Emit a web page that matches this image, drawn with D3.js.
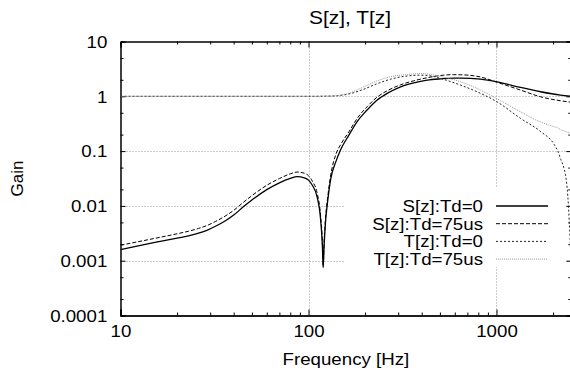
<!DOCTYPE html>
<html><head><meta charset="utf-8">
<script src="https://cdn.jsdelivr.net/npm/d3@7"></script>
<style>body{margin:0;background:#fff}svg{display:block}</style>
</head><body><svg id="c" width="570" height="377"></svg>
<script>
const title = "S[z], T[z]";
const xLabel = "Frequency [Hz]";
const yLabel = "Gain";
const xTicks = [10, 100, 1000];
const xTickLabels = ["10", "100", "1000"];
const yTicks = [0.0001, 0.001, 0.01, 0.1, 1, 10];
const yTickLabels = ["0.0001", "0.001", "0.01", "0.1", "1", "10"];
const seriesNames = ["S[z]:Td=0", "S[z]:Td=75us", "T[z]:Td=0", "T[z]:Td=75us"];

const sFreq = [10, 15, 20, 23, 26, 29, 32, 36, 40, 45, 50, 60, 70, 80, 87, 95, 100, 105, 111, 116, 118.6, 119.7, 121, 123, 126.7, 131, 140, 148, 164, 181, 205, 232, 262, 309, 363, 428, 503, 590, 644, 823, 1008, 1342, 1715, 2190, 2500];
const s0 = [0.00160, 0.00213, 0.00258, 0.00285, 0.00318, 0.00362, 0.00425, 0.00530, 0.00680, 0.00960, 0.0128, 0.0198, 0.0264, 0.0318, 0.0342, 0.0325, 0.0295, 0.0235, 0.0148, 0.0056, 0.0018, 0.00075, 0.0018, 0.0048, 0.0128, 0.0298, 0.065, 0.105, 0.196, 0.343, 0.561, 0.853, 1.13, 1.49, 1.76, 1.97, 2.08, 2.15, 2.15, 2.06, 1.84, 1.45, 1.21, 1.05, 1.00];
const s75 = [0.00192, 0.00253, 0.00310, 0.00345, 0.00388, 0.00442, 0.00520, 0.00650, 0.00830, 0.01160, 0.0154, 0.0238, 0.0316, 0.0384, 0.0415, 0.0395, 0.0355, 0.0280, 0.0175, 0.0066, 0.0021, 0.00078, 0.0021, 0.0056, 0.0150, 0.0350, 0.088, 0.13, 0.225, 0.39, 0.645, 0.97, 1.26, 1.62, 1.92, 2.18, 2.40, 2.48, 2.47, 2.25, 1.80, 1.30, 0.98, 0.83, 0.78];

const tFreq = [10, 50, 100, 130, 145, 167, 197, 232, 273, 335, 394, 450, 503, 644, 823, 1008, 1342, 1715, 2018, 2118, 2200, 2280, 2328, 2395, 2440, 2480];
const t0 = [1, 1, 1, 1.01, 1.03, 1.12, 1.35, 1.70, 2.05, 2.35, 2.43, 2.35, 2.12, 1.60, 1.13, 0.79, 0.395, 0.228, 0.135, 0.10, 0.07, 0.05, 0.037, 0.015, 0.005, 0.0015];
const t75 = [1, 1, 1, 1.01, 1.04, 1.16, 1.49, 1.91, 2.27, 2.50, 2.60, 2.50, 2.30, 1.84, 1.30, 0.90, 0.52, 0.34, 0.28, 0.265, 0.245, 0.235, 0.228, 0.22, 0.215, 0.21];

const svg = d3.select("#c");
const FONT = "'Liberation Sans', Arial, Helvetica, sans-serif";
const L = 120.5, T = 41.5, B = 315.5;
const x = d3.scaleLog().domain([10, 2500]).range([L, L + 188 * Math.log10(250)]);
const y = d3.scaleLog().domain([0.0001, 10]).range([B, T]);
const R = x.range()[1];

svg.append("rect").attr("width", 570).attr("height", 377).attr("fill", "#fff");

// grid
const grid = svg.append("g").attr("stroke", "#999").attr("stroke-width", 1).attr("stroke-dasharray", "1,2");
grid.selectAll(".gx").data([100, 1000]).join("line")
  .attr("x1", d => Math.round(x(d)) + 0.5).attr("x2", d => Math.round(x(d)) + 0.5)
  .attr("y1", T).attr("y2", B);
grid.selectAll(".gy").data([0.001, 0.01, 0.1, 1]).join("line")
  .attr("y1", d => Math.round(y(d)) + 0.5).attr("y2", d => Math.round(y(d)) + 0.5)
  .attr("x1", L).attr("x2", R);

// legend background (blanks grid)
svg.append("rect").attr("x", 345).attr("y", 188).attr("width", 222).attr("height", 79).attr("fill", "#fff");

// minor ticks
const xMinor = [];
[10, 100, 1000].forEach(dec => { for (let k = 2; k <= 9; k++) { const v = dec * k; if (v <= 2500) xMinor.push(v); } });
const yMinor = [];
[0.0001, 0.001, 0.01, 0.1, 1].forEach(dec => { [2, 5].forEach(k => yMinor.push(dec * k)); });

const axB = svg.append("g").attr("transform", `translate(0,${B})`)
  .call(d3.axisBottom(x).tickValues(xTicks).tickFormat((d, i) => xTickLabels[i]).tickSize(-6).tickPadding(9));
const axT = svg.append("g").attr("transform", `translate(0,${T})`)
  .call(d3.axisTop(x).tickValues(xTicks).tickFormat("").tickSize(-6));
const axBm = svg.append("g").attr("transform", `translate(0,${B})`)
  .call(d3.axisBottom(x).tickValues(xMinor).tickFormat("").tickSize(-3));
const axTm = svg.append("g").attr("transform", `translate(0,${T})`)
  .call(d3.axisTop(x).tickValues(xMinor).tickFormat("").tickSize(-3));
const axL = svg.append("g").attr("transform", `translate(${L},0)`)
  .call(d3.axisLeft(y).tickValues(yTicks).tickFormat((d, i) => yTickLabels[i]).tickSize(-5).tickPadding(12));
const axLm = svg.append("g").attr("transform", `translate(${L},0)`)
  .call(d3.axisLeft(y).tickValues(yMinor).tickFormat("").tickSize(-3));
const axR = svg.append("g").attr("transform", `translate(${R},0)`)
  .call(d3.axisRight(y).tickValues(yTicks).tickFormat("").tickSize(-5));
const axRm = svg.append("g").attr("transform", `translate(${R},0)`)
  .call(d3.axisRight(y).tickValues(yMinor).tickFormat("").tickSize(-3));

[axB, axT, axBm, axTm, axL, axLm, axR, axRm].forEach(a => {
  a.select(".domain").attr("stroke", "#000");
  a.selectAll(".tick line").attr("stroke", "#000");
});
axB.select(".domain").attr("stroke-width", 1.6);
svg.selectAll(".tick text").attr("font-family", FONT).attr("font-size", 17).attr("fill", "#000");
axB.selectAll(".tick text").attr("transform", "scale(1.1,1)");
axL.selectAll(".tick text").attr("dy", "0.34em").attr("transform", "scale(1.1,1)");

// curves
svg.append("clipPath").attr("id", "clip").append("rect")
  .attr("x", L).attr("y", T).attr("width", R - L).attr("height", B - T);
const line = d3.line().x(d => x(d[0])).y(d => y(d[1])).curve(d3.curveMonotoneX);
const styles = [
  { stroke: "#000", w: 1.3, dash: null },
  { stroke: "#000", w: 1, dash: "4,2" },
  { stroke: "#222", w: 1, dash: "2,2" },
  { stroke: "#999", w: 1, dash: "1,1" }
];
const series = [
  sFreq.map((f, i) => [f, s0[i]]),
  sFreq.map((f, i) => [f, s75[i]]),
  tFreq.map((f, i) => [f, t0[i]]),
  tFreq.map((f, i) => [f, t75[i]])
];
const cg = svg.append("g").attr("clip-path", "url(#clip)");
series.forEach((s, i) => {
  cg.append("path").attr("d", line(s)).attr("fill", "none")
    .attr("stroke", styles[i].stroke).attr("stroke-width", styles[i].w)
    .attr("stroke-dasharray", styles[i].dash);
});

// legend
const lg = svg.append("g");
seriesNames.forEach((n, i) => {
  const yy = 206 + i * 17.7;
  lg.append("line").attr("x1", 496).attr("x2", 548).attr("y1", yy).attr("y2", yy)
    .attr("stroke", styles[i].stroke).attr("stroke-width", styles[i].w).attr("stroke-dasharray", styles[i].dash);
  lg.append("text").attr("transform", `translate(483,${yy + 6}) scale(1.1,1)`)
    .attr("text-anchor", "end").attr("font-family", FONT).attr("font-size", 17).text(n);
});

// titles
svg.append("text").attr("transform", "translate(350,24) scale(1.1,1)").attr("text-anchor", "middle")
  .attr("font-family", FONT).attr("font-size", 19).text(title);
svg.append("text").attr("transform", `translate(${(L + R) / 2},365) scale(1.1,1)`).attr("text-anchor", "middle")
  .attr("font-family", FONT).attr("font-size", 17).text(xLabel);
svg.append("text").attr("transform", `translate(23,${(T + B) / 2}) rotate(-90)`).attr("text-anchor", "middle")
  .attr("font-family", FONT).attr("font-size", 17).text(yLabel);
</script></body></html>
